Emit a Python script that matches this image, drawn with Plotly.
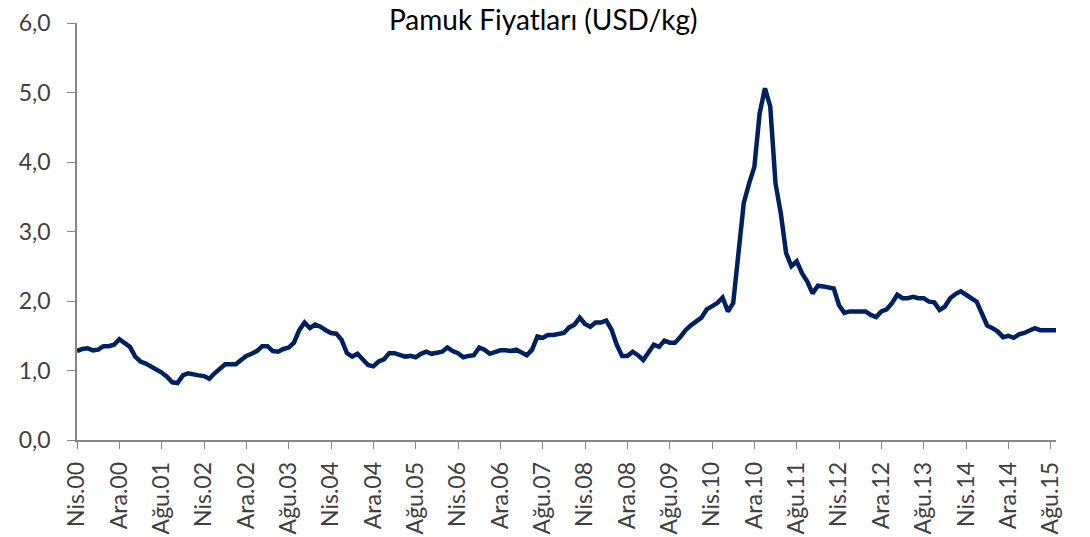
import plotly.graph_objects as go

# Monthly cotton prices (USD/kg), Nis.00 (Apr 2000) .. Eyl.15 (Sep 2015)
prices = [
    1.28, 1.31, 1.32, 1.29, 1.30, 1.35, 1.35, 1.37, 1.45, 1.40,
    1.34, 1.20, 1.13, 1.10, 1.06, 1.01, 0.97, 0.91, 0.83, 0.82,
    0.93, 0.96, 0.94, 0.93, 0.92, 0.88, 0.96, 1.03, 1.09, 1.09,
    1.09, 1.15, 1.21, 1.24, 1.28, 1.35, 1.35, 1.28, 1.27, 1.31,
    1.33, 1.40, 1.58, 1.69, 1.61, 1.66, 1.63, 1.58, 1.54, 1.53,
    1.44, 1.25, 1.20, 1.24, 1.16, 1.08, 1.06, 1.13, 1.16, 1.25,
    1.25, 1.23, 1.20, 1.21, 1.19, 1.24, 1.27, 1.24, 1.25, 1.27,
    1.33, 1.28, 1.25, 1.19, 1.21, 1.22, 1.33, 1.30, 1.24, 1.27,
    1.29, 1.29, 1.28, 1.30, 1.26, 1.22, 1.30, 1.49, 1.47, 1.51,
    1.51, 1.53, 1.54, 1.62, 1.66, 1.76, 1.67, 1.63, 1.69, 1.69,
    1.72, 1.59, 1.37, 1.21, 1.21, 1.27, 1.22, 1.15, 1.27, 1.37,
    1.34, 1.43, 1.40, 1.40, 1.48, 1.58, 1.65, 1.70, 1.76, 1.88,
    1.92, 1.97, 2.05, 1.85, 1.97, 2.64, 3.41, 3.69, 3.93, 4.70,
    5.06, 4.80, 3.69, 3.26, 2.69, 2.50, 2.57, 2.40, 2.28, 2.11,
    2.22, 2.21, 2.20, 2.18, 1.94, 1.83, 1.85, 1.85, 1.85, 1.85,
    1.80, 1.77, 1.85, 1.88, 1.97, 2.09, 2.04, 2.04, 2.06, 2.04,
    2.04, 1.99, 1.98, 1.87, 1.92, 2.04, 2.10, 2.14, 2.09, 2.04,
    1.99, 1.82, 1.645, 1.61, 1.56, 1.48, 1.50, 1.47, 1.52, 1.54,
    1.57, 1.61, 1.58, 1.58, 1.58, 1.58,
]
month_index = list(range(len(prices)))

tick_labels = [
    "Nis.00", "Ara.00", "Ağu.01", "Nis.02", "Ara.02", "Ağu.03",
    "Nis.04", "Ara.04", "Ağu.05", "Nis.06", "Ara.06", "Ağu.07",
    "Nis.08", "Ara.08", "Ağu.09", "Nis.10", "Ara.10", "Ağu.11",
    "Nis.12", "Ara.12", "Ağu.13", "Nis.14", "Ara.14", "Ağu.15",
]
tick_step = 8
tick_positions = [k * tick_step for k in range(len(tick_labels))]

y_ticks = [0, 1, 2, 3, 4, 5, 6]
title_text = "Pamuk Fiyatları (USD/kg)"

FONT = "Lato"
AXIS_COLOR = "#868686"
TEXT_COLOR = "#404040"

fig = go.Figure()
fig.add_trace(go.Scatter(
    x=month_index, y=prices, mode="lines",
    line=dict(color="#002060", width=4.5),
    hoverinfo="y", showlegend=False,
))

fig.update_layout(
    width=1090, height=537,
    margin=dict(l=77, r=34, t=23, b=97),
    paper_bgcolor="white", plot_bgcolor="white",
    separators=",.",
    font=dict(family=FONT, color=TEXT_COLOR),
    annotations=[dict(
        text=title_text, xref="paper", yref="paper",
        x=0.477, y=1.0, yshift=4, xanchor="center", yanchor="middle",
        showarrow=False, font=dict(family=FONT, size=28, color="black"),
    )],
)

fig.update_xaxes(
    range=[0, len(prices) - 1], automargin=False,
    tickmode="array", tickvals=tick_positions, ticktext=tick_labels,
    tickangle=-90, ticks="outside", ticklen=7, tickwidth=1.3,
    tickcolor=AXIS_COLOR, showline=True, linecolor=AXIS_COLOR, linewidth=1.5,
    showgrid=False, zeroline=False,
    tickfont=dict(family=FONT, size=23, color=TEXT_COLOR),
    ticklabelstandoff=4,
)
fig.update_yaxes(
    range=[0, 6], automargin=False, tickmode="array", tickvals=y_ticks,
    tickformat=".1f",
    ticks="outside", ticklen=8, tickwidth=1.3, tickcolor=AXIS_COLOR,
    showline=True, linecolor=AXIS_COLOR, linewidth=1.5,
    showgrid=False, zeroline=False,
    tickfont=dict(family=FONT, size=23, color=TEXT_COLOR),
    ticklabelstandoff=12,
)

fig.write_html("out.html", config={"displayModeBar": False})

# remove the browser's default page margin so the figure sits at the window origin
with open("out.html", encoding="utf-8") as fh:
    page = fh.read()
page = page.replace("<body>", '<body style="margin:0">', 1)
with open("out.html", "w", encoding="utf-8") as fh:
    fh.write(page)
